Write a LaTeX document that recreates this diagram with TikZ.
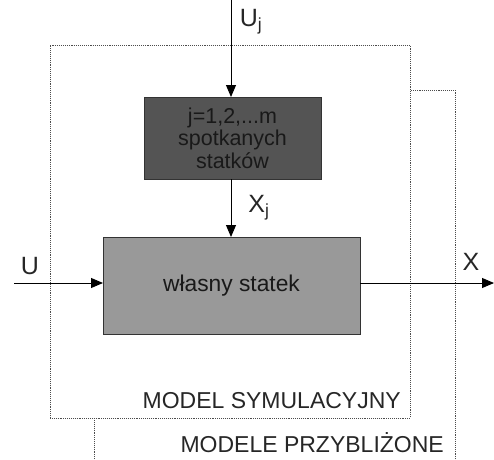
\documentclass[tikz,border=0pt]{standalone}
\usepackage{fontspec}
\setmainfont{Liberation Sans}
\usetikzlibrary{arrows.meta}
\begin{document}
\begin{tikzpicture}[x=1pt,y=-1pt,
  dotbox/.style={draw=black!70,densely dotted,line width=0.9pt,inner sep=0pt,outer sep=0pt},
  block/.style={draw=black!80,line width=0.8pt,inner sep=0pt,outer sep=0pt,align=center,text=black!90},
  conn/.style={line width=0.9pt,-{Triangle[length=12pt,width=10pt]}},
  lbl/.style={inner sep=0pt,text=black!85,font=\fontsize{25}{28}\selectfont},
  txt/.style={inner sep=0pt,text=black!85,font=\fontsize{23}{25}\selectfont}]
\useasboundingbox (0,0) rectangle (494,459);
\clip (0,0) rectangle (494,459);
% approximate models box (behind)
\node[dotbox,minimum width=361pt,minimum height=390pt] (approx) at (274.5,285) {};
% simulation model box
\node[dotbox,fill=white,minimum width=360pt,minimum height=373pt] (sim) at (230,231.5) {};
% blocks
\node[block,fill=black!67,minimum width=177pt,minimum height=82pt,font=\fontsize{21.5}{22.5}\selectfont] (dark) at (232.5,138) {j=1,2,...m\\spotkanych\\statków};
\node[block,fill=black!40,minimum width=257pt,minimum height=97pt,font=\fontsize{22.8}{25}\selectfont] (light) at (231.5,285.5) {własny statek};
% free ends
\coordinate (ujs) at (231,0);
\coordinate (us) at (14,283);
\coordinate (xe) at (494,283);
% connectors
\draw[conn] (ujs) -- (ujs |- dark.north);
\draw[conn] (dark.south -| ujs) -- (light.north -| ujs);
\draw[conn] (us) -- (us -| light.west);
\draw[conn] (light.east |- xe) -- (xe);
% labels
\node[lbl] (uj) at (251,22) {U\textsubscript{j}};
\node[lbl] (xj) at (259,208) {X\textsubscript{j}};
\node[lbl] (u) at (30,266) {U};
\node[lbl] (x) at (471,262) {X};
\node[txt,anchor=east] (simlbl) at (401,401) {MODEL SYMULACYJNY};
\node[txt,anchor=east] (approxlbl) at (444,443) {MODELE PRZYBLIŻONE};
\end{tikzpicture}
\end{document}
